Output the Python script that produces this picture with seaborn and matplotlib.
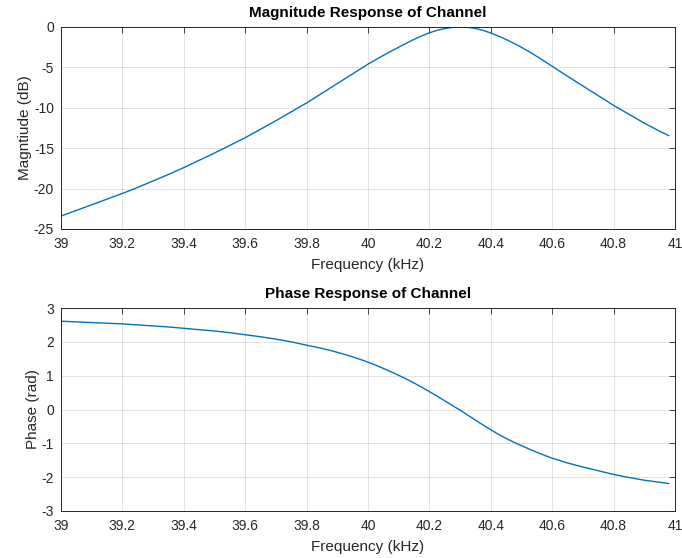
import numpy as np
import pandas as pd
import seaborn as sns
from matplotlib import pyplot as plt

# frequency samples (kHz), denser around the resonance
freq_khz = [39.00, 39.05, 39.10, 39.15, 39.20, 39.25, 39.30, 39.35, 39.40, 39.45,
            39.50, 39.55, 39.60, 39.65, 39.70, 39.75, 39.80, 39.825, 39.85, 39.875,
            39.90, 39.925, 39.95, 39.975, 40.00, 40.025, 40.05, 40.075, 40.10, 40.125,
            40.15, 40.175, 40.20, 40.225, 40.25, 40.275, 40.30, 40.325, 40.35, 40.375,
            40.40, 40.425, 40.45, 40.475, 40.50, 40.525, 40.55, 40.575, 40.60, 40.65,
            40.70, 40.75, 40.80, 40.85, 40.90, 40.95, 40.98]

magnitude_db = [-23.4, -22.7, -22.0, -21.3, -20.6, -19.85, -19.05, -18.25, -17.4, -16.5,
                -15.6, -14.65, -13.7, -12.65, -11.6, -10.5, -9.4, -8.8, -8.2, -7.6,
                -7.0, -6.4, -5.8, -5.2, -4.6, -4.05, -3.52, -3.0, -2.5, -2.0,
                -1.53, -1.10, -0.72, -0.41, -0.19, -0.05, 0.0, -0.04, -0.18, -0.42,
                -0.74, -1.12, -1.55, -2.02, -2.52, -3.06, -3.64, -4.24, -4.86, -6.1,
                -7.3, -8.5, -9.7, -10.8, -11.9, -12.9, -13.45]

phase_rad = [2.61, 2.59, 2.57, 2.55, 2.53, 2.50, 2.47, 2.44, 2.40, 2.36,
             2.32, 2.27, 2.21, 2.15, 2.08, 2.00, 1.90, 1.855, 1.805, 1.75,
             1.69, 1.625, 1.555, 1.48, 1.40, 1.31, 1.215, 1.115, 1.01, 0.90,
             0.782, 0.66, 0.53, 0.395, 0.257, 0.118, -0.02, -0.167, -0.314, -0.459,
             -0.60, -0.733, -0.855, -0.968, -1.07, -1.17, -1.265, -1.355, -1.44, -1.58,
             -1.70, -1.81, -1.92, -2.01, -2.09, -2.15, -2.19]

x_ticks = [39, 39.2, 39.4, 39.6, 39.8, 40, 40.2, 40.4, 40.6, 40.8, 41]
x_ticklabels = ['39', '39.2', '39.4', '39.6', '39.8', '40', '40.2', '40.4', '40.6', '40.8', '41']

sns.set_style("white")
plt.rcParams['font.family'] = ['Liberation Sans', 'DejaVu Sans']
plt.rcParams['axes.unicode_minus'] = False

df = pd.DataFrame({'freq': freq_khz, 'mag': magnitude_db, 'phase': phase_rad})

fig = plt.figure(figsize=(6.82, 5.58), dpi=100)
ax1 = fig.add_axes([61/682, 1-229/558, 614/682, 202/558])
ax2 = fig.add_axes([61/682, 1-511/558, 614/682, 203/558])

line_color = '#0072BD'
dark = '#262626'


def style_axes(ax, yticks, ylim, ylabel, title):
    ax.set_xlim(39, 41)
    ax.set_ylim(*ylim)
    ax.set_xticks(x_ticks)
    ax.set_xticklabels(x_ticklabels)
    ax.set_yticks(yticks)
    ax.set_yticklabels([str(t) for t in yticks])
    ax.grid(True, color='#262626', alpha=0.15, linewidth=0.6)
    ax.tick_params(direction='in', length=4, width=0.6, top=True, right=True,
                   labelsize=10, colors=dark)
    ax.tick_params(axis='x', pad=6)
    ax.tick_params(axis='y', pad=5)
    for s in ax.spines.values():
        s.set_color(dark)
        s.set_linewidth(0.7)
    ax.set_xlabel('Frequency (kHz)', fontsize=11, color=dark, labelpad=5)
    ax.set_ylabel(ylabel, fontsize=11, color=dark, labelpad=1)
    ax.set_title(title, fontsize=11, fontweight='bold', color='black', pad=7)


sns.lineplot(data=df, x='freq', y='mag', ax=ax1, color=line_color, linewidth=1.0)
style_axes(ax1, [-25, -20, -15, -10, -5, 0], (-25, 0), 'Magntiude (dB)',
           'Magnitude Response of Channel')

sns.lineplot(data=df, x='freq', y='phase', ax=ax2, color=line_color, linewidth=1.0)
style_axes(ax2, [-3, -2, -1, 0, 1, 2, 3], (-3, 3), 'Phase (rad)',
           'Phase Response of Channel')

fig.savefig('out.png', dpi=100)
